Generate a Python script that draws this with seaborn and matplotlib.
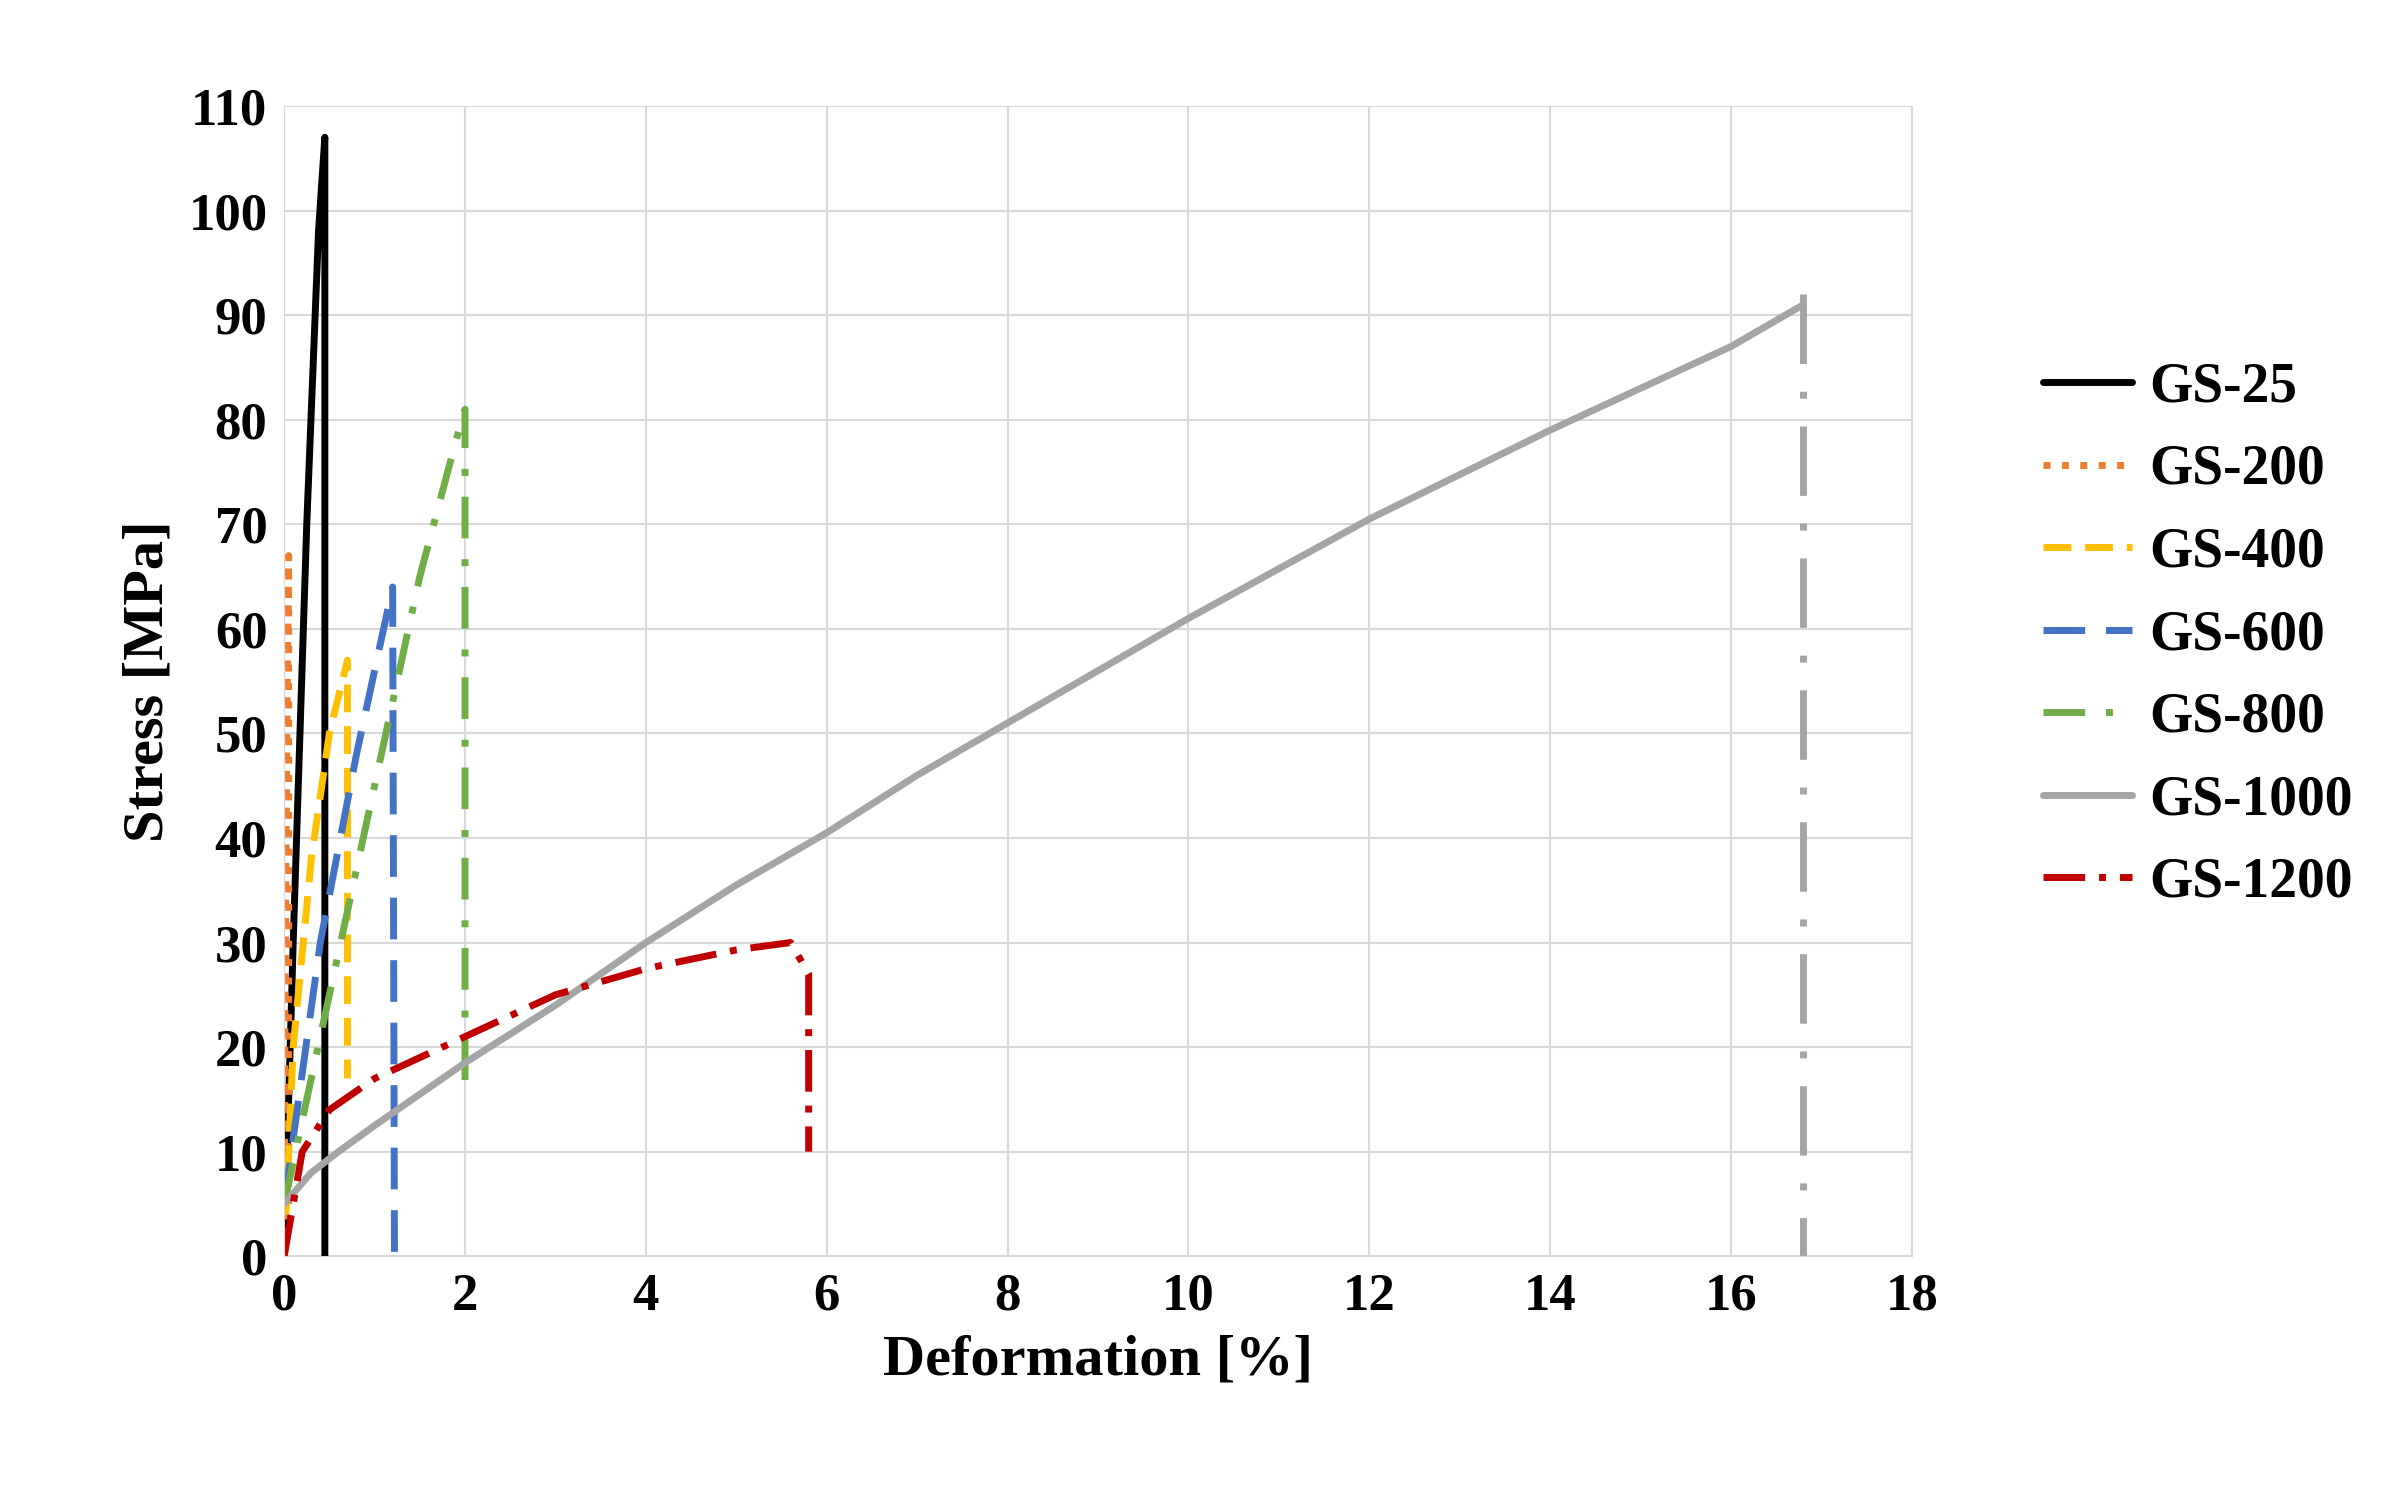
import numpy as np
import pandas as pd
import matplotlib.pyplot as plt
import seaborn as sns

# curve key points (deformation %, stress MPa)
gs25_x = [0, 0.1, 0.25, 0.38, 0.45, 0.45]
gs25_y = [0, 30, 70, 98, 107, 0]
gs200_x = [0, 0.01, 0.03, 0.05, 0.05]
gs200_y = [0, 25, 50, 67, 5]
gs400_x = [0, 0.1, 0.3, 0.5, 0.7, 0.7]
gs400_y = [0, 20, 38, 50, 57, 17]
gs600_x = [0, 0.4, 0.8, 1.1, 1.2, 1.22]
gs600_y = [5, 30, 48, 60, 64, 0]
gs800_x = [0, 0.5, 1.0, 1.5, 1.9, 2.0, 2.0]
gs800_y = [5, 25, 45, 65, 78, 81, 15]
gs1000_x = [0, 0.3, 0.6, 1, 1.5, 2, 3, 4, 5, 6, 7, 8, 10, 12, 14, 16, 16.8]
gs1000_y = [5, 8, 10, 12.5, 15.5, 18.5, 24, 30, 35.5, 40.5, 46, 51, 61, 70.5, 79, 87, 91]
gs1000_drop_x = [16.8, 16.8]
gs1000_drop_y = [92, 0]
gs1200_x = [0, 0.2, 0.5, 1, 2, 3, 4, 5, 5.6, 5.8, 5.8]
gs1200_y = [0, 10, 14, 17, 21, 25, 27.5, 29.3, 30, 27, 10]

names = ["GS-25", "GS-200", "GS-400", "GS-600", "GS-800", "GS-1000", "GS-1200"]
xs = [gs25_x, gs200_x, gs400_x, gs600_x, gs800_x, gs1000_x, gs1200_x]
ys = [gs25_y, gs200_y, gs400_y, gs600_y, gs800_y, gs1000_y, gs1200_y]
colors = ["#000000", "#ED7D31", "#FFC000", "#4472C4", "#70AD47", "#A5A5A5", "#C00000"]
styles = ["-", ":", (0, (4, 2)), (0, (6, 3)), (0, (6, 3, 1, 3)), "-", (0, (6, 2, 1, 2))]

sns.set_style("white")
plt.rcParams['font.family'] = ['Liberation Serif', 'DejaVu Serif']
plt.rcParams['font.weight'] = 'bold'
plt.rcParams['text.color'] = 'black'
plt.rcParams['axes.labelcolor'] = 'black'
plt.rcParams['xtick.color'] = 'black'
plt.rcParams['ytick.color'] = 'black'

fig = plt.figure(figsize=(24.08, 14.92), dpi=100)
ax = fig.add_axes([0.118, 0.158, 0.676, 0.771])

for n, x, y, c, ls in zip(names, xs, ys, colors, styles):
    df = pd.DataFrame({"x": x, "y": y})
    sns.lineplot(data=df, x="x", y="y", sort=False, ax=ax, color=c,
                 linewidth=5, label=n, estimator=None)
    ax.lines[-1].set_linestyle(ls)

drop = pd.DataFrame({"x": gs1000_drop_x, "y": gs1000_drop_y})
sns.lineplot(data=drop, x="x", y="y", sort=False, ax=ax, color=colors[5],
             linewidth=5, estimator=None, legend=False)
ax.lines[-1].set_linestyle((0, (10, 4, 1, 4)))

ax.set_xlim(0, 18)
ax.set_ylim(0, 110)
ax.set_xticks(np.arange(0, 19, 2))
ax.set_yticks(np.arange(0, 111, 10))
ax.grid(True, color="#D9D9D9", linewidth=1.5)
for s in ax.spines.values():
    s.set_color("#D9D9D9")
ax.tick_params(labelsize=38, length=0, pad=12)
for t in ax.get_xticklabels() + ax.get_yticklabels():
    t.set_fontweight("bold")
ax.set_xlabel("Deformation [%]", fontsize=42, fontweight="bold", labelpad=10)
ax.set_ylabel("Stress [MPa]", fontsize=42, fontweight="bold", labelpad=10)

leg = ax.legend(loc="center left", bbox_to_anchor=(1.05, 0.54), frameon=False,
                fontsize=40, handlelength=1.6, handletextpad=0.3, labelspacing=0.55)
for t in leg.get_texts():
    t.set_fontweight("bold")

fig.savefig("out.png", dpi=100, facecolor="white")
